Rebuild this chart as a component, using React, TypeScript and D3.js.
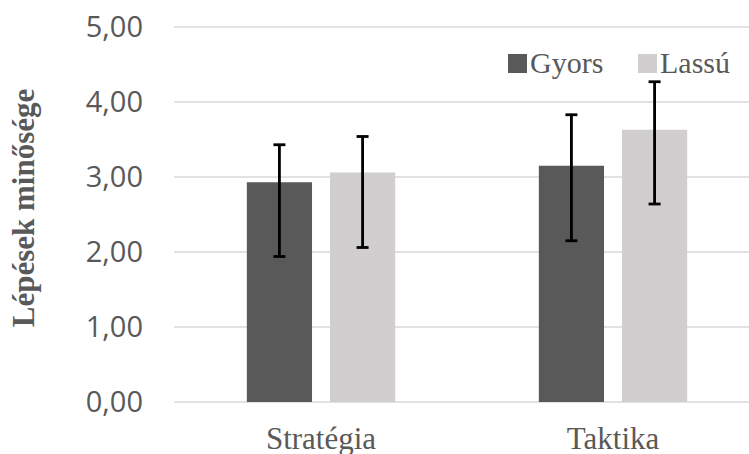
import React from "react";
import * as d3 from "d3";

const categories = ["Stratégia", "Taktika"];
const series = ["Gyors", "Lassú"];
const gyorsValues = [2.93, 3.15];
const lassuValues = [3.06, 3.63];
const gyorsUpper = [3.43, 3.83];
const gyorsLower = [1.94, 2.15];
const lassuUpper = [3.54, 4.27];
const lassuLower = [2.06, 2.64];
const yTicks = [0, 1, 2, 3, 4, 5];
const colors = ["#595959", "#d0cece"];

const W = 749;
const H = 454;
const SERIF = "Liberation Serif, DejaVu Serif, Times New Roman, serif";

export default function App() {
  const x0 = d3
    .scaleBand<string>()
    .domain(categories)
    .range([175, 759])
    .paddingInner(0.492)
    .paddingOuter(0.246);
  const x1 = d3
    .scaleBand<string>()
    .domain(series)
    .range([0, x0.bandwidth()])
    .paddingInner(0.216);
  const y = d3.scaleLinear().domain([0, 5]).range([402, 27]);

  const values = [gyorsValues, lassuValues];
  const uppers = [gyorsUpper, lassuUpper];
  const lowers = [gyorsLower, lassuLower];
  const fmt = (v: number) => v.toFixed(2).replace(".", ",");

  return (
    <svg
      width={W}
      height={H}
      style={{ position: "absolute", left: 0, top: 0, background: "#fff" }}
    >
      {yTicks.map((t) => (
        <g key={t}>
          <line x1={174} x2={W} y1={y(t)} y2={y(t)} stroke="#d9d9d9" strokeWidth={1.5} />
          <text
            x={143}
            y={y(t)}
            dy="0.36em"
            textAnchor="end"
            fontFamily="Open Sans, sans-serif"
            fontSize={29}
            fill="#595959"
          >
            {fmt(t)}
          </text>
        </g>
      ))}
      {categories.map((c, ci) => (
        <g key={c}>
          {series.map((s, si) => {
            const bx = (x0(c) as number) + (x1(s) as number);
            const bw = x1.bandwidth();
            const v = values[si][ci];
            return (
              <rect key={s} x={bx} y={y(v)} width={bw} height={y(0) - y(v)} fill={colors[si]} />
            );
          })}
          {series.map((s, si) => {
            const cx = (x0(c) as number) + (x1(s) as number) + x1.bandwidth() / 2;
            const hi = y(uppers[si][ci]);
            const lo = y(lowers[si][ci]);
            return (
              <g key={s + "e"} stroke="#000" strokeWidth={2.8}>
                <line x1={cx} x2={cx} y1={hi} y2={lo} />
                <line x1={cx - 6} x2={cx + 6} y1={hi} y2={hi} />
                <line x1={cx - 6} x2={cx + 6} y1={lo} y2={lo} />
              </g>
            );
          })}
          <text
            x={(x0(c) as number) + x0.bandwidth() / 2}
            y={449}
            textAnchor="middle"
            fontFamily={SERIF}
            fontSize={31}
            fill="#595959"
          >
            {c}
          </text>
        </g>
      ))}
      <text
        transform={`translate(34,208) rotate(-90)`}
        textAnchor="middle"
        fontFamily={SERIF}
        fontWeight="bold"
        fontSize={31}
        fill="#595959"
      >
        Lépések minősége
      </text>
      {series.map((s, si) => {
        const lx = [508, 638][si];
        return (
          <g key={s}>
            <rect x={lx} y={54} width={19} height={19} fill={colors[si]} />
            <text x={lx + 22} y={73} fontFamily={SERIF} fontSize={30} fill="#595959">
              {s}
            </text>
          </g>
        );
      })}
    </svg>
  );
}
